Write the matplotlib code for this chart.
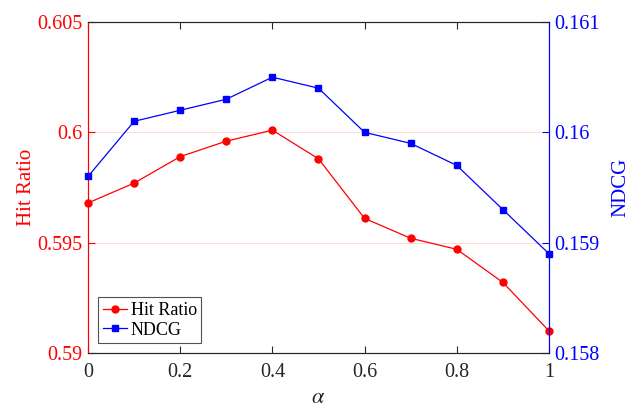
import matplotlib.pyplot as plt
import numpy as np

plt.rcParams['font.family'] = ['Liberation Serif', 'DejaVu Serif']
plt.rcParams['mathtext.fontset'] = 'stix'

alpha = [0, 0.1, 0.2, 0.3, 0.4, 0.5, 0.6, 0.7, 0.8, 0.9, 1.0]
hit_ratio = [0.5968, 0.5977, 0.5989, 0.5996, 0.6001, 0.5988, 0.5961, 0.5952, 0.5947, 0.5932, 0.5910]
ndcg = [0.1596, 0.1601, 0.1602, 0.1603, 0.1605, 0.1604, 0.1600, 0.1599, 0.1597, 0.1593, 0.1589]

hr_ticks = [0.59, 0.595, 0.6, 0.605]
hr_labels = ['0.59', '0.595', '0.6', '0.605']
nd_ticks = [0.158, 0.159, 0.16, 0.161]
nd_labels = ['0.158', '0.159', '0.16', '0.161']
x_ticks = [0, 0.2, 0.4, 0.6, 0.8, 1]
x_labels = ['0', '0.2', '0.4', '0.6', '0.8', '1']

fig = plt.figure(figsize=(6.3, 4.03), dpi=100)
ax = fig.add_axes([0.1397, 0.124, 0.7317, 0.8214])
ax2 = ax.twinx()

l1, = ax.plot(alpha, hit_ratio, color='#ff0000', marker='o', markersize=5, lw=0.9, label='Hit Ratio', clip_on=False, zorder=3)
l2, = ax2.plot(alpha, ndcg, color='#0000ff', marker='s', markersize=4.5, lw=0.9, label='NDCG', clip_on=False, zorder=3)

ax.set_xlim(0, 1)
ax.set_ylim(0.59, 0.605)
ax2.set_ylim(0.158, 0.161)

ax.set_xticks(x_ticks)
ax.set_xticklabels(x_labels)
ax.set_yticks(hr_ticks)
ax.set_yticklabels(hr_labels)
ax2.set_yticks(nd_ticks)
ax2.set_yticklabels(nd_labels)

ax.yaxis.grid(True, color='#ffdcdc', lw=0.8)
ax.set_axisbelow(True)

ax.tick_params(axis='x', direction='in', top=True, length=5, labelsize=14.5, colors='#262626', pad=7)
ax.tick_params(axis='y', direction='in', length=5, labelsize=14.5, colors='#ff0000', pad=4)
ax2.tick_params(axis='y', direction='in', length=5, labelsize=14.5, colors='#0000ff', pad=4)

for a in (ax, ax2):
    a.spines['top'].set_color('#262626')
    a.spines['bottom'].set_color('#262626')
    a.spines['left'].set_color('#ff0000')
    a.spines['right'].set_color('#0000ff')

ax.set_ylabel('Hit Ratio', color='#ff0000', fontsize=15, labelpad=1)
ax2.set_ylabel('NDCG', color='#0000ff', fontsize=15, labelpad=8)
ax.set_xlabel(r'$\alpha$', fontsize=16, color='#262626', labelpad=5)

leg = ax.legend([l1, l2], ['Hit Ratio', 'NDCG'], loc='lower left', bbox_to_anchor=(0.022, 0.03),
                fontsize=13, frameon=True, fancybox=False, edgecolor='#262626',
                handlelength=1.35, handletextpad=0.2, borderpad=0.25, labelspacing=0.15, borderaxespad=0)
leg.get_frame().set_linewidth(0.8)

fig.savefig('out.png', dpi=100)
